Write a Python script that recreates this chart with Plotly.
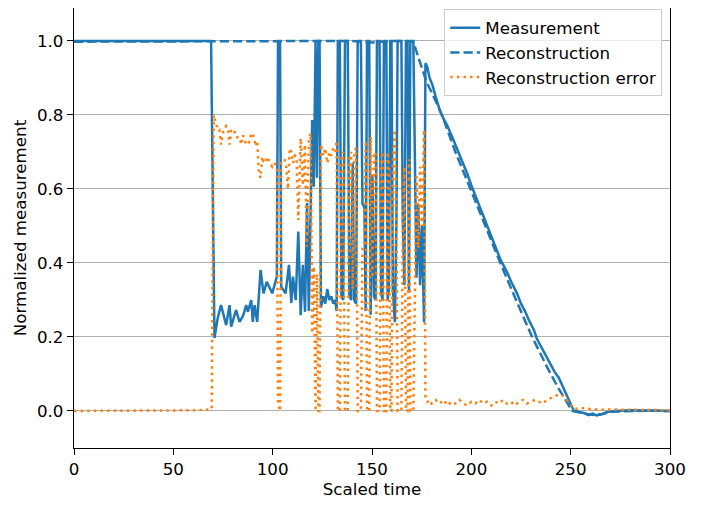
import plotly.graph_objects as go

# ---- Measurement (time, value) ----
meas_t = [0, 69, 70.7, 72.3, 74, 76.6, 78.3, 79.1, 81.6, 83.3, 85, 86.7, 87.5, 89.2, 90, 90.9, 92.2,
          93.9, 95.4, 97, 99.8, 102.1, 102.7, 103.7, 104.3, 106.5, 108.2, 109.4, 110.2, 111.6, 112.9,
          114.1, 115.2, 116.3, 117.3, 118.2, 119.9, 120.7, 121.6, 122.3, 123.0, 123.6, 124.3, 125.5,
          126.5, 127.5, 128.5, 129.5, 130.5, 131.5, 132.2, 132.8, 133.8, 134.6, 135.5, 136.4, 137.8,
          138.6, 139.5, 140.3, 141.0, 142.0, 142.8, 144.4, 145.2, 146.2, 146.8, 147.5, 148.6, 149.3,
          150.2, 151.0, 151.8, 152.5, 153.8, 154.6, 155.3, 156.0, 157.2, 157.9, 158.5, 159.2, 159.8,
          160.5, 161.5, 162.3, 162.9, 164.8, 165.5, 166.3, 167.1, 167.9, 168.6, 169.3, 170.8, 171.6,
          172.4, 173.3, 174.2, 175.1, 176.2, 176.9, 177.8, 179, 180.5, 182, 184.3, 186, 188, 190, 192,
          194, 195.5, 197.8, 200, 202, 204, 206.2, 208, 210, 212, 214.6, 216.5, 218, 220, 223, 225,
          227, 229, 231.5, 233, 235, 237, 239.9, 242, 244, 246, 248.3, 250, 251.6, 254, 257, 259, 261,
          263, 266, 268, 272, 280, 290, 300]
meas_v = [1.0, 1.0, 0.197, 0.25, 0.286, 0.232, 0.286, 0.228, 0.273, 0.241, 0.256, 0.286, 0.268, 0.30,
          0.241, 0.286, 0.241, 0.381, 0.318, 0.349, 0.318, 0.363, 1.0, 1.0, 0.336, 0.318, 0.395, 0.292,
          0.363, 0.30, 0.485, 0.259, 0.395, 0.268, 0.562, 0.27, 0.786, 0.606, 1.0, 0.63, 1.0, 1.0, 0.28,
          0.31, 0.29, 0.33, 0.30, 0.31, 0.29, 0.30, 0.27, 1.0, 1.0, 0.31, 0.30, 1.0, 1.0, 0.31, 0.30,
          0.67, 0.30, 0.29, 1.0, 1.0, 0.56, 0.55, 0.27, 1.0, 1.0, 0.26, 0.64, 0.31, 0.30, 1.0, 1.0,
          0.32, 0.30, 1.0, 1.0, 0.30, 0.33, 1.0, 1.0, 0.33, 0.24, 0.52, 1.0, 1.0, 0.52, 0.34, 1.0, 1.0,
          0.32, 1.0, 1.0, 0.60, 0.36, 0.56, 0.34, 0.50, 0.24, 0.94, 0.93, 0.90, 0.88, 0.85, 0.81, 0.79,
          0.77, 0.745, 0.72, 0.69, 0.675, 0.643, 0.61, 0.585, 0.555, 0.525, 0.50, 0.475, 0.445, 0.41,
          0.39, 0.375, 0.35, 0.318, 0.29, 0.27, 0.245, 0.219, 0.195, 0.175, 0.155, 0.13, 0.105, 0.09,
          0.065, 0.039, 0.02, 0.0, -0.002, -0.006, -0.011, -0.007, -0.012, -0.008, -0.003, 0.0, 0.002,
          0.0, 0.0]

# ---- Reconstruction (time, value) ----
recon_t = [0, 15, 25, 69, 100, 120, 140, 150, 160, 170.7, 173, 177.4, 181, 185.2, 192, 199.4, 207,
           214.6, 222.5, 230.6, 238, 244, 250.8, 254, 258, 262, 266, 270, 280, 290, 300]
recon_v = [0.998, 0.998, 1.0, 1.0, 1.0, 1.0, 1.0, 0.996, 1.0, 0.999, 0.96, 0.89, 0.85, 0.80, 0.70,
           0.60, 0.50, 0.40, 0.30, 0.20, 0.12, 0.06, 0.0, -0.004, -0.008, -0.011, -0.008, -0.002,
           0.0, 0.001, 0.0]

# ---- Reconstruction error (time, value) ----
err_t = [0, 55, 62, 68, 69.3, 70.3, 71.2, 72.3, 73.2, 74, 75.2, 76.6, 77.5, 78.3, 79.1, 80.5, 81.6,
         83.3, 84.2, 85, 86.7, 87.5, 88.4, 89.2, 90, 90.9, 91.6, 92.2, 93, 93.9, 94.7, 95.4, 96.3,
         97, 98.5, 99.8, 101, 102.1, 102.7, 103.7, 104.3, 106, 106.8, 107.7, 108.6, 109.4, 110.3,
         111.2, 112, 112.9, 114.1, 115.2, 116.2, 117.2, 118.2, 119.1, 119.9, 120.7, 121.6, 122.3,
         123.0, 123.6, 124.3, 125.5, 126.5, 127.5, 128.5, 129.5, 130.5, 131.5, 132.2, 132.8, 133.8,
         134.6, 135.5, 136.4, 137.8, 138.6, 139.5, 140.3, 141.0, 142.0, 142.8, 144.4, 145.2, 146.2,
         146.8, 147.5, 148.6, 149.3, 150.2, 151.0, 151.8, 152.5, 153.8, 154.6, 155.3, 156.0, 157.2,
         157.9, 158.5, 159.2, 159.8, 160.5, 161.5, 162.3, 162.9, 164.8, 165.5, 166.3, 167.1, 167.9,
         168.6, 169.3, 170.8, 171.6, 172.4, 173.3, 174.2, 175.1, 176.2, 176.9, 178, 179, 180, 182,
         184, 186, 188, 190, 192, 194, 196, 198, 200, 202, 204, 206, 208, 210, 212, 214, 216, 218,
         220, 222, 224, 226, 228, 230, 232, 234, 236, 238, 240, 242, 244, 246, 248, 250, 252, 255,
         260, 265, 270, 280, 290, 300]
err_v = [0.0, 0.0, 0.002, 0.004, 0.005, 0.80, 0.78, 0.76, 0.76, 0.72, 0.76, 0.77, 0.76, 0.72, 0.76,
         0.76, 0.74, 0.74, 0.72, 0.745, 0.72, 0.72, 0.73, 0.75, 0.75, 0.73, 0.715, 0.73, 0.65, 0.63,
         0.687, 0.674, 0.67, 0.687, 0.67, 0.66, 0.67, 0.652, 0.02, 0.0, 0.67, 0.68, 0.66, 0.60, 0.71,
         0.70, 0.67, 0.69, 0.687, 0.516, 0.737, 0.61, 0.72, 0.444, 0.73, 0.75, 0.21, 0.39, 0.0, 0.37,
         0.0, 0.0, 0.72, 0.69, 0.71, 0.67, 0.70, 0.69, 0.71, 0.70, 0.73, 0.0, 0.0, 0.69, 0.70, 0.0,
         0.0, 0.69, 0.70, 0.33, 0.70, 0.71, 0.0, 0.0, 0.44, 0.45, 0.73, 0.0, 0.0, 0.74, 0.36, 0.69,
         0.70, 0.0, 0.0, 0.68, 0.70, 0.0, 0.0, 0.70, 0.67, 0.0, 0.0, 0.67, 0.76, 0.48, 0.0, 0.0, 0.48,
         0.66, 0.0, 0.0, 0.68, 0.0, 0.0, 0.40, 0.64, 0.44, 0.66, 0.50, 0.76, 0.03, 0.025, 0.03, 0.02,
         0.03, 0.02, 0.03, 0.015, 0.025, 0.02, 0.03, 0.02, 0.015, 0.025, 0.02, 0.03, 0.02, 0.025,
         0.015, 0.025, 0.02, 0.03, 0.02, 0.025, 0.015, 0.025, 0.03, 0.02, 0.025, 0.03, 0.025, 0.02,
         0.03, 0.035, 0.04, 0.045, 0.042, 0.03, 0.015, 0.005, 0.008, 0.006, 0.003, 0.004, 0.003,
         0.002, 0.002]

x_ticks = [0, 50, 100, 150, 200, 250, 300]
y_ticks = [0.0, 0.2, 0.4, 0.6, 0.8, 1.0]

BLUE = "#1f77b4"
ORANGE = "#ff7f0e"
LW = 2.5
FONT = "DejaVu Sans"
FS = 16.7
TXT = "black"

fig = go.Figure()
fig.add_trace(go.Scatter(x=meas_t, y=meas_v, mode="lines", name="Measurement",
                         line=dict(color=BLUE, width=LW)))
fig.add_trace(go.Scatter(x=recon_t, y=recon_v, mode="lines", name="Reconstruction",
                         line=dict(color=BLUE, width=LW, dash="9.25px,4px")))
fig.add_trace(go.Scatter(x=err_t, y=err_v, mode="lines", name="Reconstruction error",
                         line=dict(color=ORANGE, width=LW, dash="2.5px,4.1px")))

axis_common = dict(showline=True, linecolor="black", linewidth=1.3, mirror=True,
                   ticks="outside", ticklen=6, tickwidth=1.3, tickcolor="black",
                   tickfont=dict(family=FONT, size=FS, color=TXT), zeroline=False,
                   automargin=False)

fig.update_layout(
    width=704, height=505,
    margin=dict(l=66, r=42, t=0, b=65),
    paper_bgcolor="white", plot_bgcolor="white",
    font=dict(family=FONT, size=FS, color=TXT),
    xaxis=dict(range=[0, 300], tickvals=x_ticks, showgrid=False,
               title=dict(text="Scaled time", font=dict(family=FONT, size=FS, color=TXT), standoff=4),
               **axis_common),
    yaxis=dict(range=[-0.1, 1.089], tickvals=y_ticks, tickformat=".1f", showgrid=True,
               gridcolor="#b0b0b0", gridwidth=1.3,
               title=dict(text="Normalized measurement", font=dict(family=FONT, size=FS, color=TXT), standoff=6),
               **axis_common),
    legend=dict(x=0.987, y=0.997, xanchor="right", yanchor="top",
                bgcolor="rgba(255,255,255,0.8)", bordercolor="#cccccc", borderwidth=1,
                font=dict(family=FONT, size=FS, color=TXT)),
    showlegend=True,
)

fig.write_html("out.html")
